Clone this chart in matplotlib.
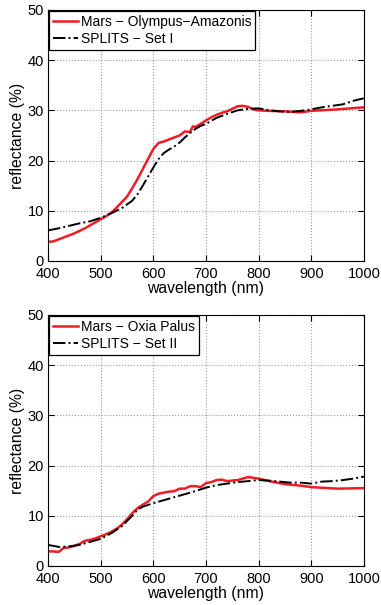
import matplotlib
matplotlib.use("Agg")
import matplotlib.pyplot as plt
import numpy as np

# top panel: Olympus-Amazonis vs SPLITS Set I
wl_mars1 = [400, 410, 420, 430, 440, 450, 460, 470, 480, 490, 500, 510, 520, 530, 540,
            550, 560, 570, 580, 590, 600, 610, 620, 630, 640, 650, 660, 670, 675, 680,
            690, 700, 710, 720, 730, 740, 750, 760, 770, 780, 790, 800, 820, 850, 880,
            900, 950, 1000]
refl_mars1 = [3.8, 3.9, 4.3, 4.7, 5.1, 5.5, 6.0, 6.5, 7.1, 7.7, 8.3, 8.9, 9.6, 10.6, 11.7,
              12.8, 14.5, 16.3, 18.3, 20.3, 22.3, 23.5, 23.8, 24.2, 24.6, 25.0, 25.8, 25.7, 26.8, 26.7,
              27.3, 28.0, 28.6, 29.1, 29.5, 29.8, 30.3, 30.8, 30.9, 30.7, 30.2, 30.0, 29.9, 29.8, 29.6,
              29.9, 30.2, 30.6]

wl_set1 = [400, 420, 440, 460, 480, 500, 520, 540, 560, 570, 580, 590, 600, 610, 620,
           630, 640, 650, 660, 670, 680, 690, 700, 720, 740, 760, 780, 800, 820, 840,
           860, 880, 900, 920, 940, 960, 980, 1000]
refl_set1 = [6.1, 6.5, 7.0, 7.5, 7.9, 8.6, 9.5, 10.5, 12.0, 13.3, 15.0, 16.8, 18.6, 20.3, 21.5,
             22.2, 22.8, 23.6, 24.6, 25.5, 26.3, 26.9, 27.3, 28.5, 29.3, 30.0, 30.3, 30.4, 30.0, 29.8,
             29.7, 29.9, 30.2, 30.6, 30.9, 31.2, 31.9, 32.4]

# bottom panel: Oxia Palus vs SPLITS Set II
wl_mars2 = [400, 410, 420, 430, 440, 450, 460, 470, 480, 490, 500, 510, 520, 530, 540,
            550, 560, 570, 580, 590, 600, 610, 620, 630, 640, 650, 660, 670, 680, 690,
            700, 710, 720, 730, 740, 750, 760, 770, 780, 800, 820, 850, 880, 900, 950, 1000]
refl_mars2 = [2.9, 2.9, 2.8, 3.6, 3.7, 4.0, 4.4, 5.0, 5.2, 5.5, 5.9, 6.3, 6.8, 7.4, 8.2,
              9.3, 10.5, 11.5, 12.2, 12.8, 13.9, 14.4, 14.6, 14.8, 14.9, 15.4, 15.4, 15.9, 15.9, 15.7,
              16.5, 16.7, 17.1, 17.2, 16.9, 17.0, 17.1, 17.4, 17.7, 17.4, 16.9, 16.3, 16.0, 15.7, 15.4, 15.5]

wl_set2 = [400, 420, 440, 460, 480, 500, 520, 540, 560, 570, 580, 600, 620, 640, 660,
           680, 700, 720, 740, 760, 780, 800, 820, 840, 860, 880, 900, 920, 940, 960,
           980, 1000]
refl_set2 = [4.2, 3.8, 3.9, 4.2, 4.8, 5.4, 6.5, 7.9, 10.0, 11.2, 11.8, 12.5, 13.1, 13.7, 14.3,
             14.9, 15.6, 16.1, 16.4, 16.7, 16.9, 17.1, 17.0, 16.8, 16.6, 16.6, 16.4, 16.8, 16.9, 17.1,
             17.4, 17.8]

panels = [
    (wl_mars1, refl_mars1, wl_set1, refl_set1, "Mars \u2212 Olympus\u2212Amazonis", "SPLITS \u2212 Set I"),
    (wl_mars2, refl_mars2, wl_set2, refl_set2, "Mars \u2212 Oxia Palus", "SPLITS \u2212 Set II"),
]

plt.rcParams["font.family"] = ["Liberation Sans", "DejaVu Sans"]
plt.rcParams["font.size"] = 11

fig = plt.figure(figsize=(3.81, 6.05), dpi=100)
rects = [[0.126, 0.5686, 0.829, 0.415], [0.126, 0.0645, 0.829, 0.415]]

for rect, (wm, rm, ws, rs, lab_m, lab_s) in zip(rects, panels):
    ax = fig.add_axes(rect)
    ax.plot(wm, rm, color="#ee1c25", lw=1.8, label=lab_m)
    ax.plot(ws, rs, color="black", lw=1.4, ls="-.", label=lab_s)
    ax.set_xlim(400, 1000)
    ax.set_ylim(0, 50)
    ax.set_xticks([400, 500, 600, 700, 800, 900, 1000])
    ax.set_yticks([0, 10, 20, 30, 40, 50])
    ax.grid(True, ls=":", color="#999999", lw=0.8)
    ax.tick_params(direction="in", top=True, right=True, length=4, labelsize=10.5)
    ax.tick_params(axis="x", pad=4)
    ax.tick_params(axis="y", pad=3)
    for s in ax.spines.values():
        s.set_linewidth(0.8)
    ax.set_xlabel("wavelength (nm)", fontsize=11.3, labelpad=0.5)
    ax.set_ylabel("reflectance (%)", fontsize=11.3, labelpad=2)
    leg = ax.legend(loc="upper left", fancybox=False, edgecolor="black", framealpha=1,
                    borderaxespad=0.05, handlelength=1.8, borderpad=0.3, labelspacing=0.2,
                    handletextpad=0.2, fontsize=10)
    leg.get_frame().set_linewidth(0.9)

fig.savefig("out.png", dpi=100)
